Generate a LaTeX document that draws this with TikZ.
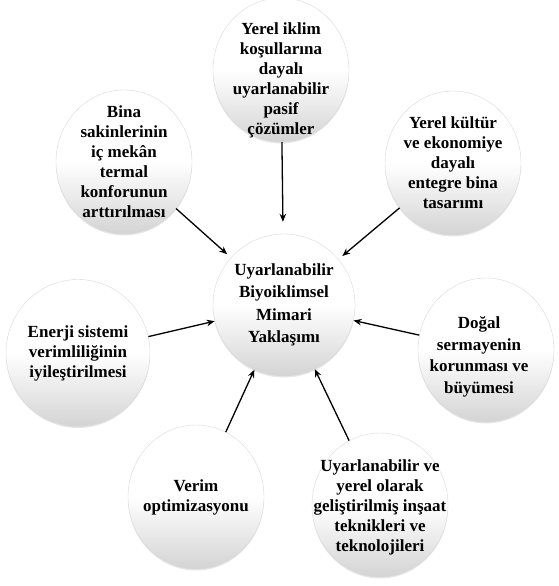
\documentclass[tikz,border=0pt]{standalone}
\usepackage{fontspec}
\setmainfont{Liberation Serif}
\usetikzlibrary{arrows.meta,shapes.geometric,shadows}

\begin{document}
\begin{tikzpicture}[x=1pt, y=-1pt]

\pgfmathsetlengthmacro{\outerWidth}{136pt}
\pgfmathsetlengthmacro{\outerHeight}{144pt}
\pgfmathsetlengthmacro{\coreSize}{142pt}
\tikzset{
  bubble/.style={ellipse, minimum width=\outerWidth, minimum height=\outerHeight, inner sep=0pt, draw=black!15, top color=white, bottom color=black!17, middle color=white, drop shadow={opacity=0.2, shadow xshift=0pt, shadow yshift=-1.5pt}},
  core/.style={bubble, minimum width=\coreSize, minimum height=\coreSize},
  caption/.style={align=center, inner sep=0pt, font=\fontsize{17}{20}\selectfont\bfseries},
  feed/.style={-{Stealth[length=8pt,width=6.5pt]}, line width=1.3pt},
}

\useasboundingbox (0,0) rectangle (558,586);

\node[core,name=core] at (284,305) {};
\node[caption, font=\fontsize{17}{22.5}\selectfont\bfseries, name=coreText] at (core) {Uyarlanabilir\\Biyoiklimsel\\Mimari\\Yaklaşımı};

% outer bubbles
\node[bubble,name=climate] at (281,70) {};
\node[bubble,name=culture] at (453,163) {};
\node[bubble,name=capital] at (486,350) {};
\node[bubble,name=building] at (380,505) {};
\node[bubble,name=yield] at (196,497) {};
\node[bubble, minimum width=144pt, minimum height=147pt, name=energy] at (78,353) {};
\node[bubble,name=comfort] at (124,162) {};

% texts
\node[caption,name=climateText] at (281,80) {Yerel iklim\\koşullarına\\dayalı\\uyarlanabilir\\pasif\\çözümler};
\node[caption,name=cultureText] at (culture) {Yerel kültür\\ve ekonomiye\\dayalı\\entegre bina\\tasarımı};
\node[caption, font=\fontsize{17}{21.5}\selectfont\bfseries, name=capitalText] at (479,357) {Doğal\\sermayenin\\korunması ve\\büyümesi};
\node[caption,name=buildingText] at (380,507) {Uyarlanabilir ve\\yerel olarak\\geliştirilmiş inşaat\\teknikleri ve\\teknolojileri};
\node[caption,name=yieldText] at (yield) {Verim\\optimizasyonu};
\node[caption,name=energyText] at (energy) {Enerji sistemi\\verimliliğinin\\iyileştirilmesi};
\node[caption,name=comfortText] at (comfort) {Bina\\sakinlerinin\\iç mekân\\termal\\konforunun\\arttırılması};

% arrows
\draw[feed, shorten >=12pt] (climate) -- (core);
\draw[feed, shorten >=5pt] (culture) -- (core);
\draw[feed] (capital) -- (core);
\draw[feed] (building) -- (core);
\draw[feed] (yield) -- (core);
\draw[feed] (energy) -- (core);
\draw[feed, shorten >=5pt] (comfort) -- (core);

\end{tikzpicture}
\end{document}
